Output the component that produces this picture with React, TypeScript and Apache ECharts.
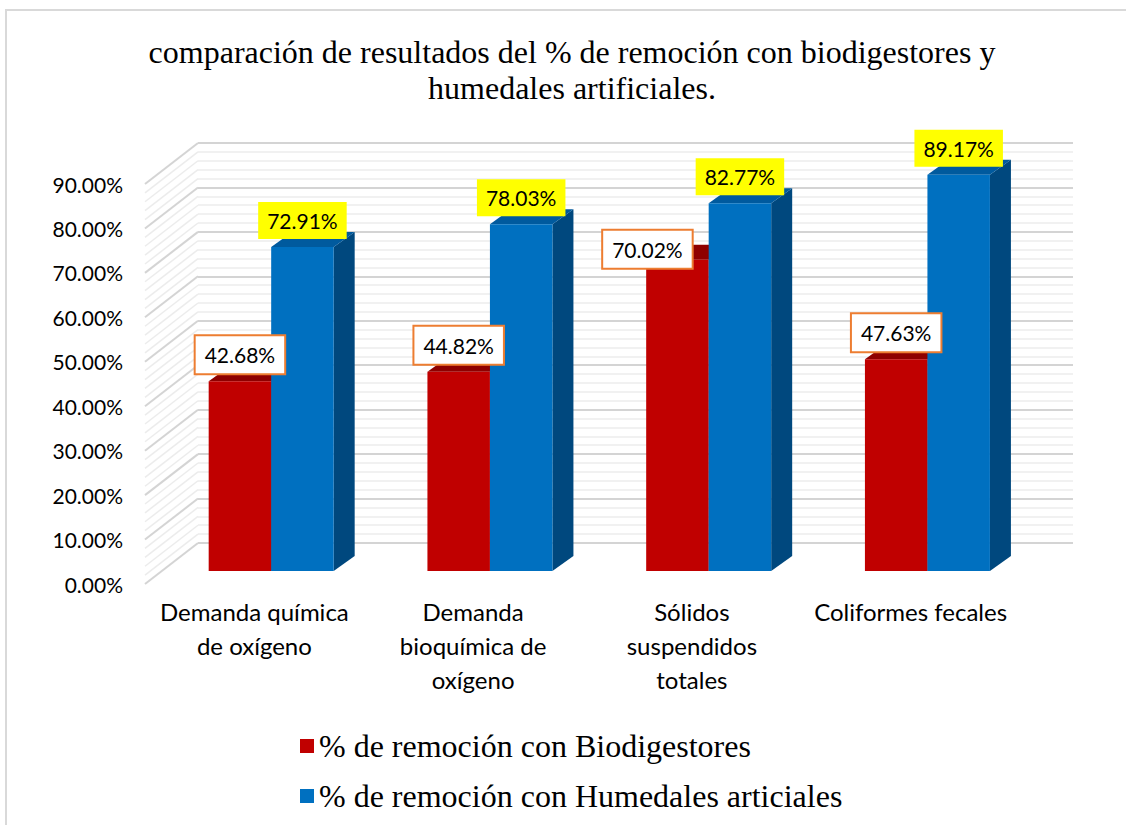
import React, { useEffect, useRef } from "react";
import * as echarts from "echarts";

// ---- data ----
const categories = [
  "Demanda química de oxígeno",
  "Demanda bioquímica de oxígeno",
  "Sólidos suspendidos totales",
  "Coliformes fecales",
];
// how each category label wraps on the axis
const categoryLabelLines = [
  ["Demanda química", "de oxígeno"],
  ["Demanda", "bioquímica de", "oxígeno"],
  ["Sólidos", "suspendidos", "totales"],
  ["Coliformes fecales"],
];
const seriesNames = [
  "% de remoción con Biodigestores",
  "% de remoción con Humedales articiales",
];
const biodigestores = [42.68, 44.82, 70.02, 47.63];
const humedales = [72.91, 78.03, 82.77, 89.17];
const titleText =
  "comparación de resultados del % de remoción con biodigestores y\nhumedales artificiales.";
const yMin = 0;
const yMax = 90;
const yInterval = 10;
const minorSplits = 5;

// ---- geometry / style ----
const FRONT = { left: 145, top: 184, width: 875, height: 400 };
const DEPTH = { dx: 53, dy: -41 };
const BAR_T = 13 / 41; // bar front plane position between front and back
const BAR_DEPTH = { dx: 21, dy: -15 };
const BAR_FRAC = 0.2857;
const CAL = "Lato, 'Noto Sans', sans-serif";
const TNR = "'Liberation Serif', 'DejaVu Serif', serif";
// manual nudges of individual data labels (series index -> category index -> [dx, dy])
const LABEL_NUDGE: Record<number, Record<number, [number, number]>> = {
  0: { 2: [-30, 16] },
};

const palette = [
  { front: "#C00000", top: "#8E0000", side: "#7A0000", label: { bg: "#FFFFFF", border: "#ED7D31", bw: 2 } },
  { front: "#0070C0", top: "#005A9E", side: "#00487E", label: { bg: "#FFFF00", border: null, bw: 0 } },
];

function barRenderer(sideIdx: number) {
  const c = palette[sideIdx];
  return (params: any, api: any) => {
    const idx = api.value(0);
    const val = api.value(1);
    const topPt = api.coord([idx, val]);
    const basePt = api.coord([idx, 0]);
    const band = api.size([1, 0])[0];
    const w = band * BAR_FRAC;
    const x0 = sideIdx === 0 ? topPt[0] - w : topPt[0];
    const x1 = x0 + w;
    const yT = topPt[1];
    const yB = basePt[1];
    const { dx, dy } = BAR_DEPTH;
    const nudge = (LABEL_NUDGE[sideIdx] && LABEL_NUDGE[sideIdx][idx]) || [0, 0];
    const label: any = {
      type: "text",
      x: (x0 + x1) / 2 + nudge[0],
      y: yT - 8 + nudge[1],
      z2: 100,
      style: {
        text: val.toFixed(2) + "%",
        fill: "#000",
        fontFamily: CAL,
        fontSize: 21,
        lineHeight: 25,
        align: "center",
        verticalAlign: "bottom",
        backgroundColor: c.label.bg,
        padding: [6, 9, 6, 9],
      },
    };
    if (c.label.border) {
      label.style.borderColor = c.label.border;
      label.style.borderWidth = c.label.bw;
    }
    return {
      type: "group",
      children: [
        {
          type: "polygon",
          shape: { points: [[x1, yB], [x1 + dx, yB + dy], [x1 + dx, yT + dy], [x1, yT]] },
          style: { fill: c.side },
        },
        {
          type: "polygon",
          shape: { points: [[x0, yT], [x0 + dx, yT + dy], [x1 + dx, yT + dy], [x1, yT]] },
          style: { fill: c.top },
        },
        {
          type: "rect",
          shape: { x: x0, y: yT, width: w, height: yB - yT },
          style: { fill: c.front },
        },
        label,
      ],
    };
  };
}

export default function App() {
  const ref = useRef<HTMLDivElement>(null);
  useEffect(() => {
    document.body.style.margin = "0";
    if (!ref.current) return;
    const chart = echarts.init(ref.current, undefined, { renderer: "svg" });

    const ticks: number[] = [];
    const step = yInterval / minorSplits;
    for (let v = yMin; v <= yMax + 1e-9; v += step) ticks.push(Math.round(v * 100) / 100);

    const barGrid = {
      left: FRONT.left + DEPTH.dx * BAR_T,
      top: FRONT.top + DEPTH.dy * BAR_T,
      width: FRONT.width,
      height: FRONT.height,
    };
    const backGrid = {
      left: FRONT.left + DEPTH.dx,
      top: FRONT.top + DEPTH.dy,
      width: FRONT.width,
      height: FRONT.height,
    };

    const hiddenCat = (gridIndex: number) => ({
      type: "category",
      gridIndex,
      data: categories,
      axisLine: { show: false },
      axisTick: { show: false },
      axisLabel: { show: false },
      splitLine: { show: false },
    });

    chart.setOption({
      animation: false,
      backgroundColor: "#FFFFFF",
      title: {
        text: titleText,
        left: 567,
        top: 29,
        textAlign: "center",
        textStyle: {
          fontFamily: TNR,
          fontSize: 32,
          fontWeight: "normal",
          color: "#000",
          lineHeight: 36,
        },
      },
      legend: {
        orient: "vertical",
        left: 300,
        top: 728,
        padding: 0,
        itemWidth: 14,
        itemHeight: 14,
        itemGap: 14,
        itemTextGap: 7,
        textStyle: { fontFamily: TNR, fontSize: 32, color: "#000", lineHeight: 36 },
        data: seriesNames.map((n) => ({ name: n, icon: "rect" })),
      },
      graphic: [
        {
          type: "rect",
          silent: true,
          shape: { x: 6, y: 10, width: 1200, height: 900 },
          style: { fill: "none", stroke: "#D9D9D9", lineWidth: 2 },
        },
      ],
      grid: [
        { ...barGrid, containLabel: false },
        { ...FRONT, containLabel: false },
        { ...backGrid, containLabel: false },
      ],
      xAxis: [
        hiddenCat(0),
        {
          type: "category",
          gridIndex: 1,
          data: categories,
          axisLine: { show: false },
          axisTick: { show: false },
          splitLine: { show: false },
          axisLabel: {
            interval: 0,
            margin: 10,
            color: "#000",
            fontFamily: CAL,
            fontSize: 24,
            lineHeight: 34,
            formatter: (v: string) => {
              const i = categories.indexOf(v);
              return i >= 0 ? categoryLabelLines[i].join("\n") : v;
            },
          },
        },
        hiddenCat(2),
      ],
      yAxis: [
        { type: "value", gridIndex: 0, min: yMin, max: yMax, interval: yInterval, show: false },
        {
          type: "value",
          gridIndex: 1,
          min: yMin,
          max: yMax,
          interval: yInterval,
          axisLine: { show: false },
          axisTick: { show: false },
          splitLine: { show: false },
          axisLabel: {
            margin: 22,
            color: "#000",
            fontFamily: CAL,
            fontSize: 21,
            formatter: (v: number) => v.toFixed(2) + "%",
          },
        },
        {
          type: "value",
          gridIndex: 2,
          min: yMin,
          max: yMax,
          interval: yInterval,
          axisLine: { show: false },
          axisTick: { show: false },
          axisLabel: { show: false },
          splitLine: { show: true, lineStyle: { color: "#D4D4D4", width: 2 } },
          minorTick: { show: false, splitNumber: minorSplits },
          minorSplitLine: { show: true, lineStyle: { color: "#ECECEC", width: 1.5 } },
        },
      ],
      series: [
        {
          type: "custom",
          name: "slant",
          xAxisIndex: 1,
          yAxisIndex: 1,
          z: 1,
          silent: true,
          clip: false,
          data: ticks.map((v) => [0, v]),
          renderItem: (params: any, api: any) => {
            const v = api.value(1);
            const y = api.coord([0, v])[1];
            const x = params.coordSys.x;
            const major = Math.abs(v / yInterval - Math.round(v / yInterval)) < 1e-6;
            return {
              type: "line",
              shape: { x1: x, y1: y, x2: x + DEPTH.dx, y2: y + DEPTH.dy },
              style: {
                stroke: major ? "#D4D4D4" : "#ECECEC",
                lineWidth: major ? 2 : 1.5,
              },
            };
          },
        },
        {
          type: "custom",
          name: seriesNames[0],
          xAxisIndex: 0,
          yAxisIndex: 0,
          z: 3,
          clip: false,
          itemStyle: { color: palette[0].front },
          data: biodigestores.map((v, i) => [i, v]),
          renderItem: barRenderer(0),
        },
        {
          type: "custom",
          name: seriesNames[1],
          xAxisIndex: 0,
          yAxisIndex: 0,
          z: 3,
          clip: false,
          itemStyle: { color: palette[1].front },
          data: humedales.map((v, i) => [i, v]),
          renderItem: barRenderer(1),
        },
      ],
    });
    return () => chart.dispose();
  }, []);
  return <div ref={ref} style={{ width: 1126, height: 825 }} />;
}
